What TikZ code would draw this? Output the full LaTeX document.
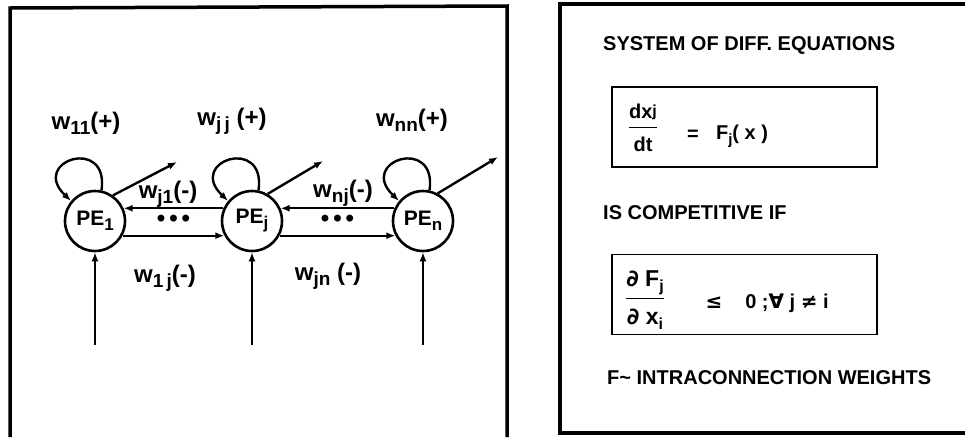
\documentclass[tikz,border=0pt]{standalone}
\usepackage{amsmath}
\usepackage{fontspec}
\setmainfont{Liberation Sans}
\newfontfamily\symfnt{DejaVu Sans}
\usetikzlibrary{positioning,arrows.meta,calc}
\newcommand{\lo}[2][16]{\raisebox{-5pt}{\fontsize{#1}{#1}\selectfont #2}}

\begin{document}
\begin{tikzpicture}[
    x=1pt, y=-1pt,
    pe/.style={draw, circle, line width=2.6pt, minimum size=60pt, inner sep=0pt,
               font=\fontsize{21}{21}\selectfont\bfseries},
    wlbl/.style={font=\fontsize{24}{24}\selectfont\bfseries, inner sep=0pt},
    dots/.style={font=\fontsize{24}{24}\selectfont\bfseries, inner sep=0pt},
    arrow/.style={-{Latex[length=9pt,width=7pt]}, line width=2.4pt},
    frame/.style={line width=3.5pt},
    eqbox/.style={draw, line width=1.3pt, minimum width=265pt, minimum height=80pt},
    txt/.style={font=\fontsize{20}{20}\selectfont\bfseries, anchor=west, inner sep=0pt},
    eqtxt/.style={font=\fontsize{20}{20}\selectfont\bfseries, inner sep=0pt},
]
\useasboundingbox (0,0) rectangle (965,437);
% panels
\draw[frame] (10,437) -- (10,8) -- (507,6) -- (507,437);
\draw[frame] (965,4) -- (560,4) -- (560,433) -- (965,433);
% processing elements
\node[pe] (pe1) at (95,221)  {PE\lo[17]{1}};
\node[pe] (pej) at (252,221) {PE\lo[17]{j}};
\node[pe] (pen) at (423,221) {PE\lo[17]{n}};
\foreach \p in {pe1,pej,pen} {
    \draw[arrow] (\p.78) .. controls +(8,-55) and +(-42,-40) .. (\p.140);
    \coordinate (\p-in) at ($(\p.south)+(0,93)$);
    \draw[arrow] (\p-in) -- (\p.south);
}
\coordinate (o1) at (177,162);
\coordinate (oj) at (323,161);
\coordinate (on) at (498,157);
\draw[arrow] (pe1.55) -- (o1);
\draw[arrow] (pej.60) -- (oj);
\draw[arrow] (pen.62) -- (on);
\draw[arrow] (pej.156) -- (pe1.24);
\draw[arrow] (pe1.-28) -- (pej.208);
\draw[arrow] (pen.156) -- (pej.24);
\draw[arrow] (pej.-28) -- (pen.208);
\node[dots] (d1) at ($(pe1)!0.5!(pej)$) {\textbullet\hspace{4pt}\textbullet\hspace{4pt}\textbullet};
\node[dots] (d2) at ($(pej)!0.5!(pen)$) {\textbullet\hspace{4pt}\textbullet\hspace{4pt}\textbullet};
% weights
\node[wlbl] (w11) at (86,123)  {w\lo[19]{11}(+)};
\node[wlbl] (wjj) at (232,121) {w\lo[19]{j\,j} (+)};
\node[wlbl] (wnn) at (412,120) {w\lo[19]{nn}(+)};
\node[wlbl] (wj1) at (168,194) {w\lo[19]{j1}(-)};
\node[wlbl] (wnj) at (343,193) {w\lo[19]{nj}(-)};
\node[wlbl] (w1j) at (165,278) {w\lo[19]{1\,j}(-)};
\node[wlbl] (wjn) at (328,276) {w\lo[19]{jn} (-)};
% equations
\node[txt] (sys) at (603,45) {SYSTEM OF DIFF. EQUATIONS};
\node[eqbox] (eq1) at (744.5,127) {};
\node[eqtxt] (f1) at (643,128)
    {$\genfrac{}{}{1pt}{0}{\hbox{\rule[-5pt]{0pt}{5pt}dx\raisebox{7pt}{\lo[16]{j}}}}{\hbox{\rule{0pt}{20pt}dt}}$};
\node[eqtxt] (eqs) at (693,135) {=};
\node[eqtxt] (fx) at (742,136) {F\lo[15]{j}( x )};
\node[txt] (comp) at (603,213) {IS COMPETITIVE IF};
\node[eqbox] (eq2) at (744.5,294.5) {};
\node[eqtxt, font=\fontsize{23}{23}\selectfont\bfseries] (f2) at (645,300)
    {$\genfrac{}{}{1pt}{0}{\hbox{\rule[-6pt]{0pt}{6pt}{\symfnt\bfseries ∂} F\lo[16]{j}}}{\hbox{\rule{0pt}{22pt}{\symfnt\bfseries ∂} x\lo[16]{i}}}$};
\node[eqtxt] (le) at (714,303) {{\symfnt\bfseries ≤}};
\node[eqtxt] (cond) at (787,303) {0 ;{\symfnt\bfseries ∀} j {\symfnt\bfseries ≠} i};
\node[txt] (intra) at (607,378) {F\textasciitilde{} INTRACONNECTION WEIGHTS};
\end{tikzpicture}
\end{document}
